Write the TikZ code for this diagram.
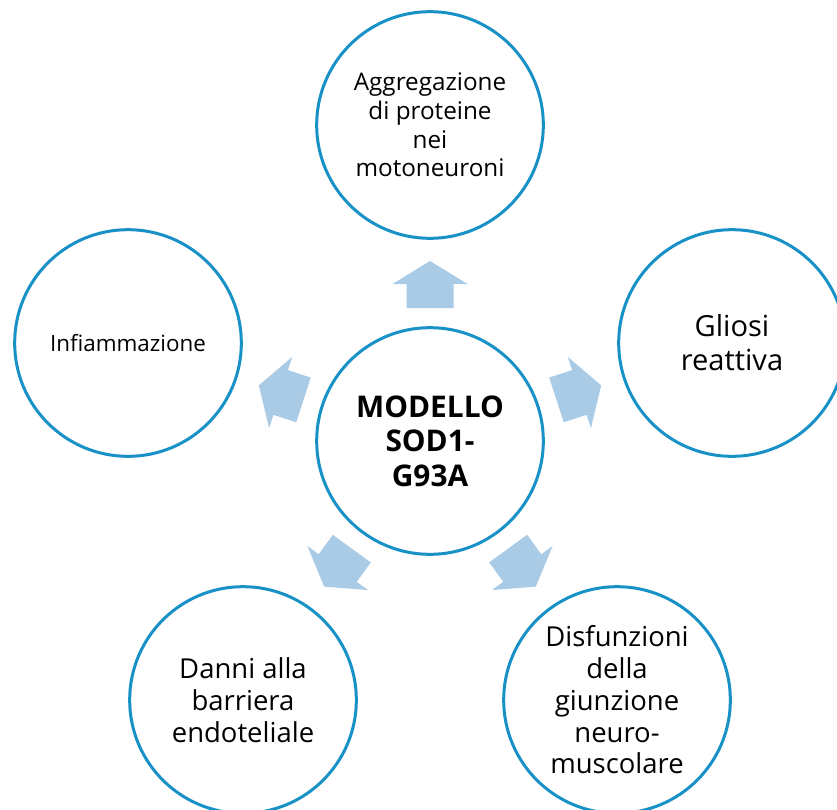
\documentclass[tikz,border=0pt]{standalone}
\usepackage{fontspec}
\setmainfont{Open Sans}
\definecolor{ringblue}{RGB}{24,145,199}
\definecolor{arrowblue}{RGB}{169,203,230}
\tikzset{
  ring/.style={circle, draw=ringblue, line width=2.25pt, minimum size=170pt, inner sep=0pt, align=center},
  toptext/.style={font=\fontsize{18.2}{21.5}\selectfont},
  lefttext/.style={font=\fontsize{16.8}{21.5}\selectfont},
  bottext/.style={font=\fontsize{20.6}{23.8}\selectfont},
  righttext/.style={font=\fontsize{21.8}{25.5}\selectfont},
  coretext/.style={font=\fontsize{22.4}{26}\selectfont\bfseries},
  blockarrow/.style={fill=arrowblue}
}
\begin{document}
\begin{tikzpicture}[x=0.75pt,y=0.75pt,yscale=-1,xscale=1]
        \useasboundingbox (0,0) rectangle (837,809);

        % centre
        \node[ring, coretext] (core) at (430,441) {MODELLO\\SOD1-\\G93A};

        % outer circles
        \node[ring, toptext] (agg) at (430,125) {Aggregazione\\di proteine\\nei\\motoneuroni};
        \node[ring, righttext] (gliosi) at (732,343) {Gliosi\\reattiva};
        \node[ring, bottext] (giunz) at (617,700) {Disfunzioni\\della\\giunzione\\neuro-\\muscolare};
        \node[ring, bottext] (barr) at (243,700) {Danni alla\\barriera\\endoteliale};
        \node[ring, lefttext] (infl) at (128,343) {Infiammazione};

        % block arrows
        \foreach \ang in {90,18,306,234,162}
          \fill[blockarrow, shift={(core.center)}, rotate=-\ang]
            (133,-23.5) -- (157,-23.5) -- (157,-37.5) -- (180,0) -- (157,37.5) -- (157,23.5) -- (133,23.5) -- cycle;
    \end{tikzpicture}
\end{document}
